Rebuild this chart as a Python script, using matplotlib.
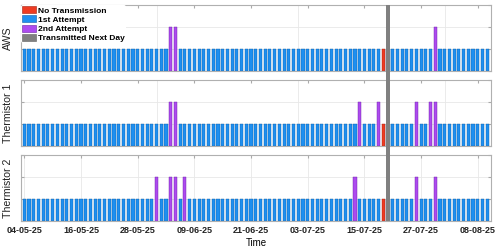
import numpy as np
import pandas as pd
import matplotlib
matplotlib.use("Agg")
import matplotlib.pyplot as plt
import matplotlib.dates as mdates
from matplotlib.patches import Patch, Rectangle

plt.rcParams["font.family"] = ["Liberation Sans", "DejaVu Sans"]
plt.rcParams["font.weight"] = "bold"

# Data
start_date = "2025-05-04"
end_date = "2025-08-10"
panel_names = ["AWS", "Thermistor 1", "Thermistor 2"]
aws_second = ["2025-06-04", "2025-06-05", "2025-07-30"]
therm1_second = ["2025-06-04", "2025-06-05", "2025-07-14", "2025-07-18",
                 "2025-07-26", "2025-07-29", "2025-07-30"]
therm2_second = ["2025-06-01", "2025-06-04", "2025-06-05", "2025-06-07",
                 "2025-07-13", "2025-07-26", "2025-07-30"]
no_transmission = ["2025-07-19"]
next_day = ["2025-07-20"]
first_level = 1
second_level = 2
tick_dates = pd.date_range(start_date, periods=9, freq="12D")

c_red = "#ee3b22"
c_blue = "#1e8ff0"
c_purple = "#ad4bef"
c_grey = "#808080"

days = pd.date_range(start_date, end_date, freq="D")
xdays = mdates.date2num(days)

fig = plt.figure(figsize=(5, 2.52), dpi=100)
boxes = [[0.042, 0.718, 0.940, 0.262],
         [0.042, 0.421, 0.940, 0.262],
         [0.042, 0.123, 0.940, 0.262]]
axes = [fig.add_axes(b) for b in boxes]
bw = 0.66

for i, (ax, name, second) in enumerate(zip(axes, panel_names,
                                          [aws_second, therm1_second, therm2_second])):
    sec = days.isin(pd.to_datetime(second))
    red = days.isin(pd.to_datetime(no_transmission))
    blue = ~(sec | red)
    ax.bar(xdays[blue], np.full(blue.sum(), first_level), width=bw,
           color=c_blue, edgecolor="#0d5fa8", linewidth=0.3)
    ax.bar(xdays[sec], np.full(sec.sum(), second_level), width=bw,
           color=c_purple, edgecolor="#6a1fa5", linewidth=0.3)
    ax.bar(xdays[red], np.full(red.sum(), first_level), width=bw,
           color=c_red, edgecolor="#a02010", linewidth=0.3)

    ax.set_xlim(xdays[0] - 0.7, xdays[-1] + 0.8)
    ax.set_ylim(0, 3)
    ax.set_yticks([0, 1, 2, 3])
    ax.set_yticklabels([])
    ax.set_xticks(mdates.date2num(tick_dates))
    ax.set_axisbelow(True)
    ax.tick_params(direction="in", length=2, colors="#aaaaaa",
                   top=True, right=True, labelsize=6.5, labelcolor="#222222")
    ax.grid(axis="y", color="#e8e8e8", linewidth=0.6)
    if i < 2:
        ax.set_xticklabels([])
        ax.xaxis.set_minor_locator(mdates.MonthLocator())
        ax.tick_params(axis="x", which="minor", length=0)
        ax.grid(axis="x", which="minor", color="#e8e8e8", linewidth=0.6)
    else:
        ax.set_xticklabels([d.strftime("%d-%m-%y") for d in tick_dates])
        ax.grid(axis="x", which="major", color="#e8e8e8", linewidth=0.6)
        ax.set_xlabel("Time", fontsize=7, labelpad=2)
    for sp in ax.spines.values():
        sp.set_color("#b0b0b0")
        sp.set_linewidth(0.8)
    ax.set_ylabel(name, fontsize=7.6, color="#222222")
    ax.yaxis.set_label_coords(-0.017, 0.5)

# grey column spanning all panels for data transmitted the next day
to_fig = fig.transFigure.inverted()
for d in mdates.date2num(pd.to_datetime(next_day)):
    x0 = to_fig.transform(axes[2].transData.transform((d - 0.45, 0)))[0]
    x1 = to_fig.transform(axes[2].transData.transform((d + 0.45, 0)))[0]
    y0 = axes[2].get_position().y0
    y1 = axes[0].get_position().y1
    fig.patches.append(Rectangle((x0, y0), x1 - x0, y1 - y0, transform=fig.transFigure,
                                 facecolor=c_grey, edgecolor="none", zorder=5))

handles = [Patch(facecolor=c_red, edgecolor="#a02010", linewidth=0.4),
           Patch(facecolor=c_blue, edgecolor="#0d5fa8", linewidth=0.4),
           Patch(facecolor=c_purple, edgecolor="#6a1fa5", linewidth=0.4),
           Patch(facecolor=c_grey, edgecolor="#606060", linewidth=0.4)]
labels = ["No Transmission", "1st Attempt", "2nd Attempt", "Transmitted Next Day"]
axes[0].legend(handles, labels, loc="upper left", bbox_to_anchor=(0, 1),
               fontsize=6.0, frameon=True, facecolor="white", edgecolor="none",
               framealpha=1, borderaxespad=0.05, borderpad=0.1, handlelength=1.7,
               handleheight=0.9, handletextpad=0.25, labelspacing=0.1)

fig.savefig("out.png", dpi=100)
